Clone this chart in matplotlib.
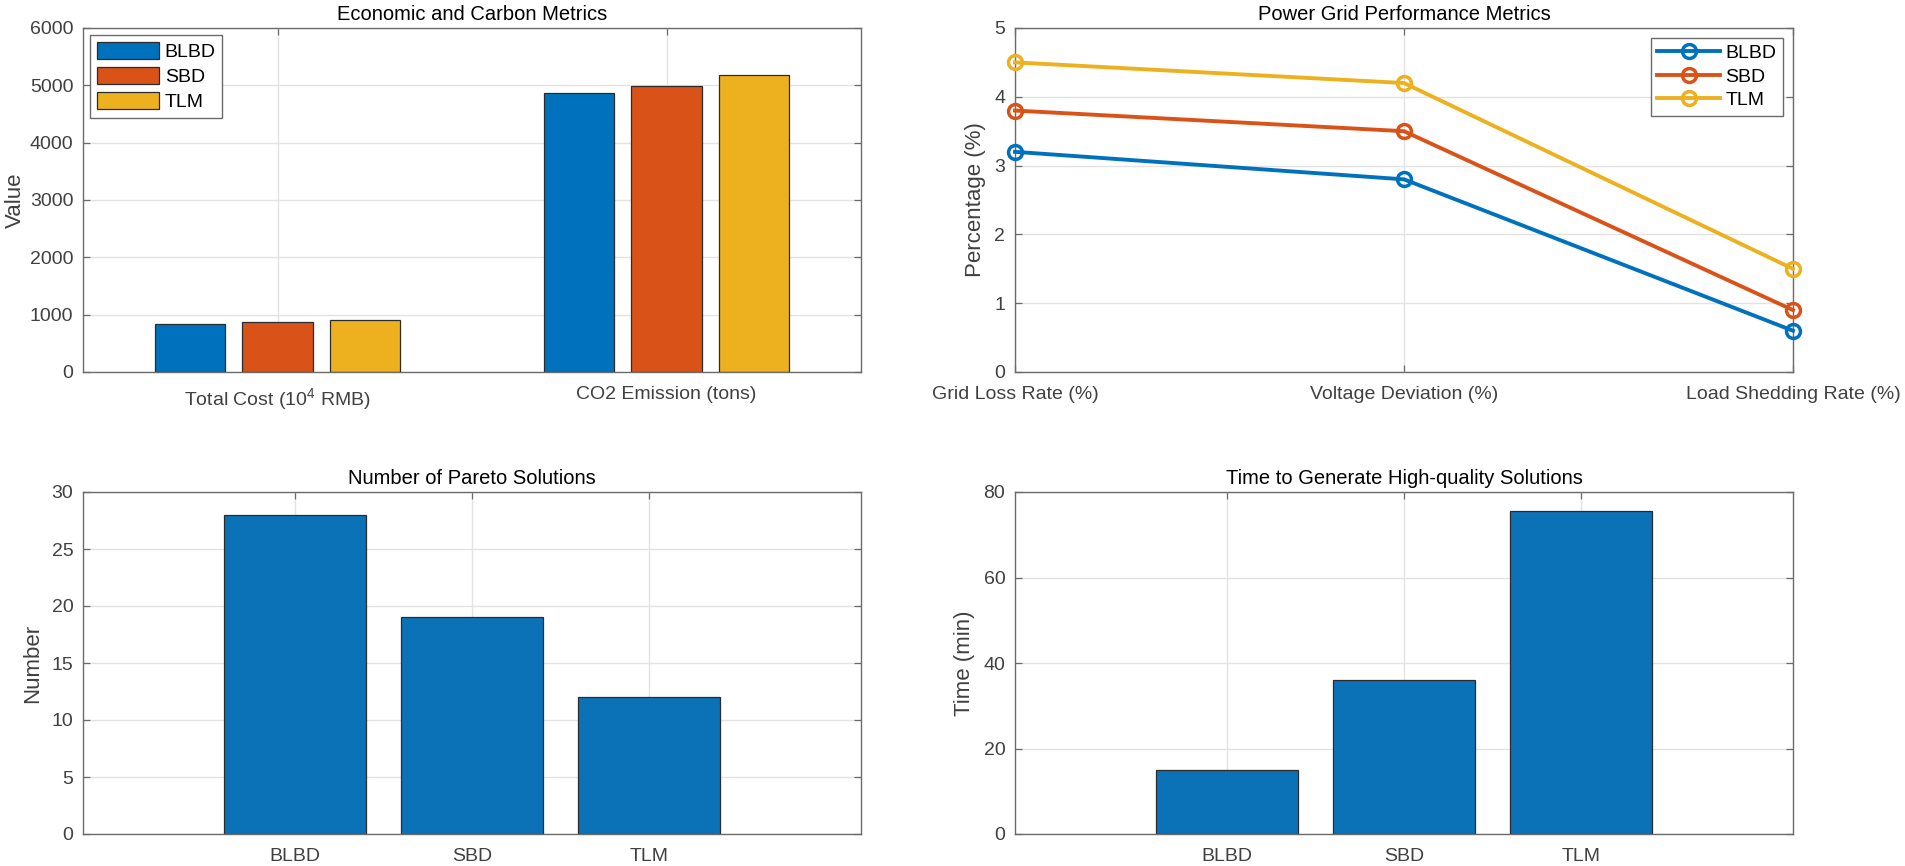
import matplotlib
matplotlib.use("Agg")
import matplotlib.pyplot as plt
import numpy as np

plt.rcParams['font.family'] = ['Liberation Sans', 'DejaVu Sans']
plt.rcParams['mathtext.fontset'] = 'custom'
plt.rcParams['mathtext.rm'] = 'Liberation Sans'
plt.rcParams['mathtext.it'] = 'Liberation Sans:italic'

# ---------------- data ----------------
methods = ['BLBD', 'SBD', 'TLM']
econ_categories = ['Total Cost (10$^4$ RMB)', 'CO2 Emission (tons)']
econ_blbd = [845, 4875]
econ_sbd = [868, 4980]
econ_tlm = [905, 5175]

grid_categories = ['Grid Loss Rate (%)', 'Voltage Deviation (%)', 'Load Shedding Rate (%)']
grid_blbd = [3.2, 2.8, 0.6]
grid_sbd = [3.8, 3.5, 0.9]
grid_tlm = [4.5, 4.2, 1.5]

pareto_counts = [28, 19, 12]
gen_times = [15, 36, 75.5]

# ---------------- style ----------------
colors = ['#0072BD', '#D95319', '#EDB120']
bar_blue = '#0B72B8'
spine_c = '#6b6b6b'
tick_c = '#404040'
grid_c = '#e3e3e3'
edge_c = '#2b2b2b'
TICK_FS = 14
TITLE_FS = 14.5
LABEL_FS = 16
LEG_FS = 14

fig = plt.figure(figsize=(19.05, 8.66), dpi=100)
W, H = 1905, 866
def ax_at(x0, y0, x1, y1):
    return fig.add_axes([x0 / W, 1 - y1 / H, (x1 - x0) / W, (y1 - y0) / H])

ax1 = ax_at(83, 28, 861, 372)
ax2 = ax_at(1015, 28, 1793, 372)
ax3 = ax_at(83, 492, 861, 834)
ax4 = ax_at(1015, 492, 1793, 834)

def style(ax):
    for s in ax.spines.values():
        s.set_color(spine_c)
        s.set_linewidth(1.0)
    ax.tick_params(direction='in', length=5, width=0.9, color=spine_c,
                   labelcolor=tick_c, labelsize=TICK_FS, top=True, right=True,
                   pad=7)
    ax.grid(True, color=grid_c, linewidth=1.0)
    ax.set_axisbelow(True)

# ---- Economic and Carbon Metrics ----
x = np.arange(1, len(econ_categories) + 1)
off = 0.2244
bw = 0.18
series = [econ_blbd, econ_sbd, econ_tlm]
for i, (vals, c, m) in enumerate(zip(series, colors, methods)):
    ax1.bar(x + (i - 1) * off, vals, width=bw, color=c, edgecolor=edge_c,
            linewidth=0.9, label=m)
ax1.set_xlim(0.5, 2.5)
ax1.set_ylim(0, 6000)
ax1.set_yticks(np.arange(0, 6001, 1000))
ax1.set_xticks(x)
ax1.set_xticklabels(econ_categories)
ax1.set_ylabel('Value', fontsize=LABEL_FS, color=tick_c, labelpad=3)
ax1.set_title('Economic and Carbon Metrics', fontsize=TITLE_FS, pad=6)
style(ax1)
ax1.tick_params(axis='x', pad=10)
leg1 = ax1.legend(loc='upper left', fontsize=LEG_FS, handlelength=3.2,
                  handleheight=1.0, borderaxespad=0.35, labelspacing=0.3,
                  handletextpad=0.3, borderpad=0.35, fancybox=False,
                  framealpha=1, edgecolor=spine_c)
leg1.get_frame().set_linewidth(1.0)

# ---- Power Grid Performance Metrics ----
xl = np.arange(1, len(grid_categories) + 1)
for vals, c, m in zip([grid_blbd, grid_sbd, grid_tlm], colors, methods):
    ax2.plot(xl, vals, '-o', color=c, linewidth=2.8, markersize=10,
             markerfacecolor='none', markeredgewidth=2.5, label=m,
             clip_on=False, zorder=3)
ax2.set_xlim(1, 3)
ax2.set_ylim(0, 5)
ax2.set_xticks(xl)
ax2.set_xticklabels(grid_categories)
ax2.set_ylabel('Percentage (%)', fontsize=LABEL_FS, color=tick_c, labelpad=6)
ax2.set_title('Power Grid Performance Metrics', fontsize=TITLE_FS, pad=6)
style(ax2)
ax2.tick_params(axis='x', pad=10)
leg2 = ax2.legend(loc='upper right', fontsize=LEG_FS, handlelength=3.2,
                  borderaxespad=0.5, labelspacing=0.3, handletextpad=0.3,
                  borderpad=0.35, fancybox=False, framealpha=1,
                  edgecolor=spine_c)
leg2.get_frame().set_linewidth(1.0)

# ---- Number of Pareto Solutions ----
xb = np.arange(1, len(methods) + 1)
ax3.bar(xb, pareto_counts, width=0.8, color=bar_blue, edgecolor=edge_c,
        linewidth=0.9)
ax3.set_xlim(-0.2, 4.2)
ax3.set_ylim(0, 30)
ax3.set_yticks(np.arange(0, 31, 5))
ax3.set_xticks(xb)
ax3.set_xticklabels(methods)
ax3.set_ylabel('Number', fontsize=LABEL_FS, color=tick_c, labelpad=6)
ax3.set_title('Number of Pareto Solutions', fontsize=TITLE_FS, pad=6)
style(ax3)
ax3.tick_params(axis='x', pad=10)

# ---- Time to Generate High-quality Solutions ----
ax4.bar(xb, gen_times, width=0.8, color=bar_blue, edgecolor=edge_c,
        linewidth=0.9)
ax4.set_xlim(-0.2, 4.2)
ax4.set_ylim(0, 80)
ax4.set_yticks(np.arange(0, 81, 20))
ax4.set_xticks(xb)
ax4.set_xticklabels(methods)
ax4.set_ylabel('Time (min)', fontsize=LABEL_FS, color=tick_c, labelpad=6)
ax4.set_title('Time to Generate High-quality Solutions', fontsize=TITLE_FS, pad=6)
style(ax4)
ax4.tick_params(axis='x', pad=10)

fig.savefig('out.png', dpi=100)
